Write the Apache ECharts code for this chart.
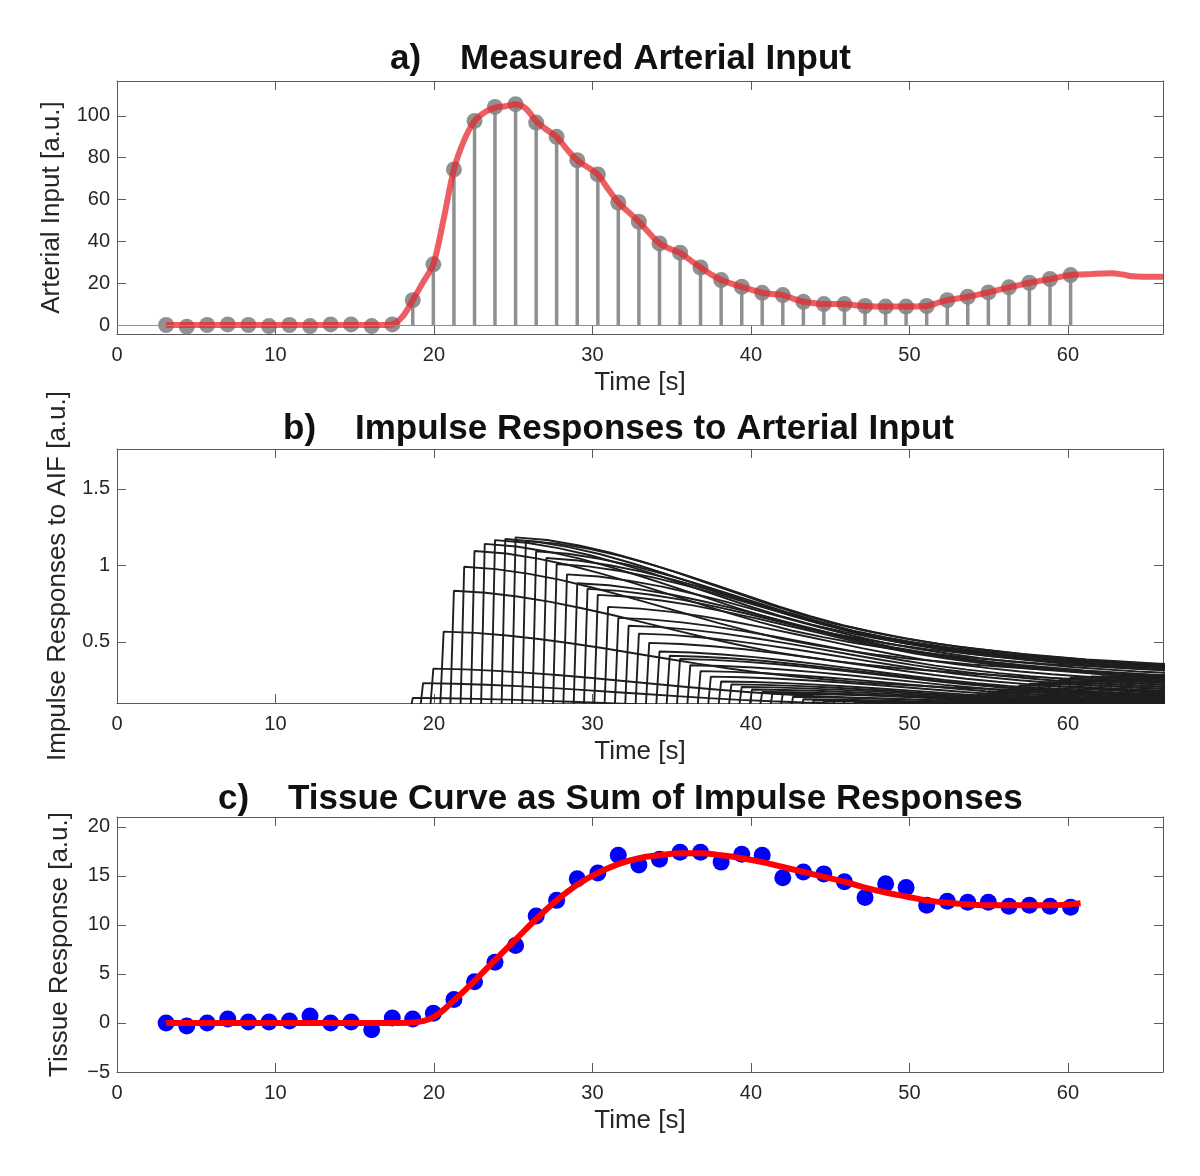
<!DOCTYPE html>
<html><head><meta charset="utf-8">
<script src="https://cdn.jsdelivr.net/npm/echarts@6/dist/echarts.min.js"></script>
<style>html,body{margin:0;padding:0;background:#fff}#chart{width:1200px;height:1176px}</style>
</head><body><div id="chart"></div>
<script>
// ---- data ----
const sampleTimes = [3.10, 4.40, 5.69, 6.99, 8.29, 9.59, 10.88, 12.18, 13.48, 14.77,
  16.07, 17.37, 18.66, 19.96, 21.26, 22.56, 23.85, 25.15, 26.45, 27.74,
  29.04, 30.34, 31.63, 32.93, 34.23, 35.53, 36.82, 38.12, 39.42, 40.71,
  42.01, 43.31, 44.60, 45.90, 47.20, 48.50, 49.79, 51.09, 52.39, 53.68,
  54.98, 56.28, 57.57, 58.87, 60.17];
const aifSamples = [0, -0.8, 0, 0.3, 0, -0.5, 0, -0.5, 0.3, 0.3,
  -0.5, 0.3, 11.9, 29.0, 74.4, 97.6, 104.3, 105.6, 96.8, 90.0,
  78.8, 72.0, 58.6, 49.4, 39.0, 34.6, 27.5, 21.5, 18.3, 15.4,
  14.3, 11.1, 10.0, 10.0, 9.1, 8.8, 8.8, 9.1, 11.9, 13.5,
  15.6, 18.0, 20.2, 22.0, 23.9];
// interpolated arterial input (red curve), sampled every half frame
const aifFineStart = 3.1;
const aifFineStep = 0.6485;
const aifFine = [0, 0, 0, 0, 0, 0, 0, 0, 0, 0,
  0, 0, 0, 0, 0, 0, 0, 0, 0, 0,
  0, 0, 0.3, 4, 11.9, 20.5, 29, 50.6, 74.4, 88.4,
  97.6, 101.8, 104, 104.6, 105.6, 103.5, 97.5, 93.5, 90, 84,
  78.8, 75.5, 72, 65, 58.6, 54, 49.4, 44, 39, 36.5,
  34.6, 31, 27.5, 24.3, 21.5, 19.8, 18.3, 16.8, 15.4, 14.8,
  14.3, 12.6, 11.1, 10.5, 10, 10, 10, 9.5, 9.1, 8.9,
  8.8, 8.8, 8.8, 8.9, 9.1, 10.5, 11.9, 12.7, 13.5, 14.5,
  15.6, 16.8, 18, 19.1, 20.2, 21.1, 22, 23, 23.9, 24.2,
  24.4, 24.6, 24.8, 24.2, 23.3, 23.1, 23.1, 23.1];
// tissue residue (impulse response shape), normalised to 1 at tau = 0
const residueTaus = [0, 2, 4, 6, 8, 10, 12, 14, 16, 18, 20, 22, 24, 26, 28, 30, 32, 34, 36, 38, 40, 42, 44, 46, 48];
const residueShape = [1.00, 0.985, 0.955, 0.915, 0.865, 0.81, 0.75, 0.69, 0.63, 0.575,
  0.525, 0.485, 0.45, 0.42, 0.395, 0.375, 0.355, 0.34, 0.325, 0.315,
  0.305, 0.295, 0.285, 0.28, 0.27];
const impulseScale = 0.0112;
const tissueSamples = [0, -0.3, 0, 0.4, 0.1, 0.1, 0.2, 0.7, 0, 0.1,
  -0.7, 0.5, 0.4, 1.0, 2.4, 4.2, 6.2, 7.9, 10.9, 12.5,
  14.7, 15.3, 17.1, 16.1, 16.7, 17.4, 17.4, 16.4, 17.2, 17.1,
  14.8, 15.4, 15.2, 14.4, 12.8, 14.2, 13.8, 12.0, 12.4, 12.3,
  12.3, 11.9, 12.0, 11.9, 11.8];
const tissueFitTimes = sampleTimes.concat([60.8]);
const tissueFit = [0, 0, 0, 0, 0, 0, 0, 0, 0, 0,
  0, 0, 0.05, 0.6, 2.3, 4.3, 6.4, 8.5, 10.6, 12.5,
  14.1, 15.3, 16.2, 16.8, 17.1, 17.3, 17.3, 17.1, 16.8, 16.4,
  15.9, 15.4, 14.9, 14.4, 13.8, 13.3, 12.9, 12.5, 12.25, 12.1,
  12.0, 12.0, 12.0, 12.0, 12.1, 12.2];
const xTicks = [0, 10, 20, 30, 40, 50, 60];
const aifTicks = [0, 20, 40, 60, 80, 100];
const irTicks = [0.5, 1, 1.5];
const tissueTicks = [-5, 0, 5, 10, 15, 20];
const panelTitles = ['a)    Measured Arterial Input', 'b)    Impulse Responses to Arterial Input', 'c)    Tissue Curve as Sum of Impulse Responses'];
const yNames = ['Arterial Input [a.u.]', 'Impulse Responses to AIF [a.u.]', 'Tissue Response [a.u.]'];
const xName = 'Time [s]';

// ---- layout / style ----
const FONT = 'Liberation Sans, Arial, sans-serif';
const AXC = '#5a5a5a';
const TXT = '#262626';
const grids = [
  {left: 117, top: 81, width: 1046, height: 253},
  {left: 117, top: 449, width: 1046, height: 254},
  {left: 117, top: 817, width: 1046, height: 255}
];
const yRanges = [[-4.3, 116.7], [0.1, 1.76], [-5, 21]];
const yTickSets = [aifTicks, irTicks, tissueTicks];
const yNameGaps = [52, 46, 44];

function xAxis(g, pos, withLabels) {
  return {
    type: 'value', gridIndex: g, position: pos, min: 0, max: 66,
    axisLine: {show: true, onZero: false, lineStyle: {color: AXC, width: 1}},
    axisTick: {show: true, inside: true, length: 9, customValues: xTicks, lineStyle: {color: AXC}},
    axisLabel: {show: withLabels, customValues: xTicks, fontSize: 20, color: TXT, margin: 11, fontFamily: FONT},
    splitLine: {show: false},
    name: withLabels ? xName : '', nameLocation: 'middle', nameGap: 36,
    nameTextStyle: {fontSize: 26, color: TXT, fontFamily: FONT}
  };
}
function yAxis(g, pos, withLabels) {
  return {
    type: 'value', gridIndex: g, position: pos, min: yRanges[g][0], max: yRanges[g][1],
    axisLine: {show: true, onZero: false, lineStyle: {color: AXC, width: 1}},
    axisTick: {show: true, inside: true, length: 9, customValues: yTickSets[g], lineStyle: {color: AXC}},
    axisLabel: {show: withLabels, customValues: yTickSets[g], fontSize: 20, color: TXT, margin: 7, fontFamily: FONT,
      formatter: v => String(v).replace('-', '\u2212')},
    splitLine: {show: false},
    name: withLabels ? yNames[g] : '', nameLocation: 'middle', nameGap: yNameGaps[g], nameRotate: 90,
    nameTextStyle: {fontSize: 26, color: TXT, fontFamily: FONT}
  };
}

const series = [];
// Panel a: stems
series.push({
  type: 'bar', xAxisIndex: 0, yAxisIndex: 0, barWidth: 3.5, silent: true,
  data: sampleTimes.map((t, i) => [t, aifSamples[i]]),
  itemStyle: {color: '#909090'}, z: 2
});
series.push({
  type: 'scatter', xAxisIndex: 0, yAxisIndex: 0, symbolSize: 16, silent: true,
  data: sampleTimes.map((t, i) => [t, aifSamples[i]]),
  itemStyle: {color: '#858585', opacity: 0.9}, z: 3,
  markLine: {silent: true, symbol: ['none', 'none'], label: {show: false},
    lineStyle: {color: '#8e8e8e', width: 1.2, type: 'solid'}, data: [{yAxis: 0}]}
});
series.push({
  type: 'line', xAxisIndex: 0, yAxisIndex: 0, showSymbol: false, symbol: 'none', smooth: 0.3, silent: true,
  data: aifFine.map((v, k) => [aifFineStart + k * aifFineStep, v]),
  lineStyle: {color: 'rgba(230,40,44,0.75)', width: 6}, z: 4
});
// Panel b: impulse responses
aifFine.forEach((a, k) => {
  const t0 = aifFineStart + k * aifFineStep;
  const h = a * impulseScale;
  const data = [[t0 - 0.25, 0]];
  residueTaus.forEach((tau, j) => data.push([t0 + tau, h * residueShape[j]]));
  series.push({
    type: 'line', xAxisIndex: 1, yAxisIndex: 1, showSymbol: false, symbol: 'none', silent: true,
    data, lineStyle: {color: '#1e1e1e', width: 1.9}, z: 2
  });
});
// Panel c
series.push({
  type: 'scatter', xAxisIndex: 2, yAxisIndex: 2, symbolSize: 17, silent: true,
  data: sampleTimes.map((t, i) => [t, tissueSamples[i]]),
  itemStyle: {color: '#0000ff', opacity: 1}, z: 3
});
series.push({
  type: 'line', xAxisIndex: 2, yAxisIndex: 2, showSymbol: false, symbol: 'none', smooth: 0.4, silent: true,
  data: tissueFitTimes.map((t, i) => [t, tissueFit[i]]),
  lineStyle: {color: '#ff0000', width: 6}, z: 4
});

const titleLefts = [390, 283, 218];
const titleTops = [42, 412, 782];

const option = {
  animation: false,
  backgroundColor: '#ffffff',
  title: panelTitles.map((t, i) => ({
    text: t, left: titleLefts[i], top: titleTops[i], padding: 0,
    textStyle: {fontSize: 35, fontWeight: 'bold', color: '#111', fontFamily: FONT}
  })),
  grid: grids.map(g => Object.assign({show: false, containLabel: false}, g)),
  xAxis: [xAxis(0, 'bottom', true), xAxis(1, 'bottom', true), xAxis(2, 'bottom', true),
          xAxis(0, 'top', false), xAxis(1, 'top', false), xAxis(2, 'top', false)],
  yAxis: [yAxis(0, 'left', true), yAxis(1, 'left', true), yAxis(2, 'left', true),
          yAxis(0, 'right', false), yAxis(1, 'right', false), yAxis(2, 'right', false)],
  series
};
const chart = echarts.init(document.getElementById('chart'), null, {renderer: 'canvas'});
chart.setOption(option);
</script>
</body></html>
